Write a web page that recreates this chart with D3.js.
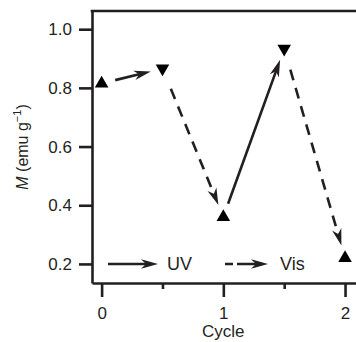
<!DOCTYPE html>
<html>
<head>
<meta charset="utf-8">
<script src="https://cdn.jsdelivr.net/npm/d3@7"></script>
<style>
  body { margin: 0; background: #fff; }
  svg { display: block; font-family: "Liberation Sans", Arial, sans-serif; }
</style>
</head>
<body>
<div id="chart"></div>
<script>
// data
const cycles = [0, 0.5, 1, 1.5, 2];
const moment = [0.815, 0.866, 0.36, 0.934, 0.22];
const shapes = ['up', 'down', 'up', 'down', 'up'];
const steps = ['UV', 'Vis', 'UV', 'Vis'];   // light used between consecutive points
const yTicks = [0.2, 0.4, 0.6, 0.8, 1.0];
const xTicks = [0, 0.5, 1, 1.5, 2];
const xLabels = ['0', '', '1', '', '2'];

const W = 356, H = 342;
const ink = '#231f20';

const svg = d3.select('#chart').append('svg')
  .attr('width', W).attr('height', H);

const x = d3.scaleLinear().domain([-0.079, 2.09]).range([92, 356]);
const y = d3.scaleLinear().domain([0.135, 1.062]).range([283, 11]);

// axes
const yAxis = d3.axisLeft(y).tickValues(yTicks).tickSize(13).tickSizeOuter(0)
  .tickPadding(7).tickFormat(d3.format('.1f'));
const gy = svg.append('g').attr('transform', 'translate(92,0)').call(yAxis);

const xAxis = d3.axisBottom(x).tickValues(xTicks).tickSize(14).tickSizeOuter(0)
  .tickPadding(10).tickFormat((d, i) => xLabels[i]);
const gx = svg.append('g').attr('transform', 'translate(0,283)').call(xAxis);
gx.selectAll('.tick').filter(d => d % 1 !== 0).select('line').attr('y2', 6);

[gx, gy].forEach(g => {
  g.select('.domain').attr('stroke', ink).attr('stroke-width', 2.6);
  g.selectAll('.tick line').attr('stroke', ink).attr('stroke-width', 2.6);
  g.selectAll('.tick text').attr('fill', ink).style('font-size', '17px');
});

// top frame line
svg.append('line')
  .attr('x1', 90.7).attr('x2', W).attr('y1', 11).attr('y2', 11)
  .attr('stroke', ink).attr('stroke-width', 2.6);

// axis titles
const yt = svg.append('text')
  .attr('transform', 'translate(28,147) rotate(-90)')
  .attr('text-anchor', 'middle')
  .attr('fill', ink).style('font-size', '16px');
yt.append('tspan').attr('font-style', 'italic').text('M');
yt.append('tspan').text(' (emu g');
yt.append('tspan').attr('dy', -7).style('font-size', '11px').text('\u22121');
yt.append('tspan').attr('dy', 7).text(')');

svg.append('text')
  .attr('x', x(1)).attr('y', 337)
  .attr('text-anchor', 'middle')
  .attr('fill', ink).style('font-size', '17px')
  .text('Cycle');

// arrow helper: shaft + filled swept-back head
const headLen = 17, headHalf = 4.8, notch = 12;
function arrow(g, x1, y1, x2, y2, dash) {
  const ang = Math.atan2(y2 - y1, x2 - x1);
  const cx = Math.cos(ang), sx = Math.sin(ang);
  g.append('line')
    .attr('x1', x1).attr('y1', y1)
    .attr('x2', x2 - cx * notch).attr('y2', y2 - sx * notch)
    .attr('stroke', ink).attr('stroke-width', 2.6)
    .attr('stroke-dasharray', dash || null);
  const pt = (a, b) => [x2 - cx * a - sx * b, y2 - sx * a + cx * b];
  const p = [[x2, y2], pt(headLen, headHalf), pt(notch, 0), pt(headLen, -headHalf)];
  g.append('path')
    .attr('d', 'M' + p.map(q => q.join(',')).join('L') + 'Z')
    .attr('fill', ink);
}

// arrows between points
const arrows = svg.append('g');
steps.forEach((s, i) => {
  const ax = x(cycles[i]), ay = y(moment[i]);
  const bx = x(cycles[i + 1]), by = y(moment[i + 1]);
  const len = Math.hypot(bx - ax, by - ay);
  const ux = (bx - ax) / len, uy = (by - ay) / len;
  const g0 = s === 'UV' ? 14 : 22, g1 = s === 'UV' ? 12 : 13;
  arrow(arrows, ax + ux * g0, ay + uy * g0, bx - ux * g1, by - uy * g1,
    s === 'UV' ? null : '11,8');
});

// markers
const tri = d3.symbol().type(d3.symbolTriangle).size(80);
svg.append('g').selectAll('path')
  .data(cycles)
  .enter().append('path')
  .attr('d', tri)
  .attr('fill', '#000')
  .attr('transform', (d, i) =>
    `translate(${x(d)},${y(moment[i])})` + (shapes[i] === 'down' ? ' rotate(180)' : ''));

// legend
const leg = svg.append('g');
const ly = y(0.2);
arrow(leg, 108, ly, 158, ly, null);
leg.append('text').attr('x', 167).attr('y', ly).attr('dy', '0.35em')
  .attr('fill', ink).style('font-size', '18px').text('UV');
arrow(leg, 225, ly, 268, ly, '8,4,60');
leg.append('text').attr('x', 280).attr('y', ly).attr('dy', '0.35em')
  .attr('fill', ink).style('font-size', '18px').text('Vis');
</script>
</body>
</html>
